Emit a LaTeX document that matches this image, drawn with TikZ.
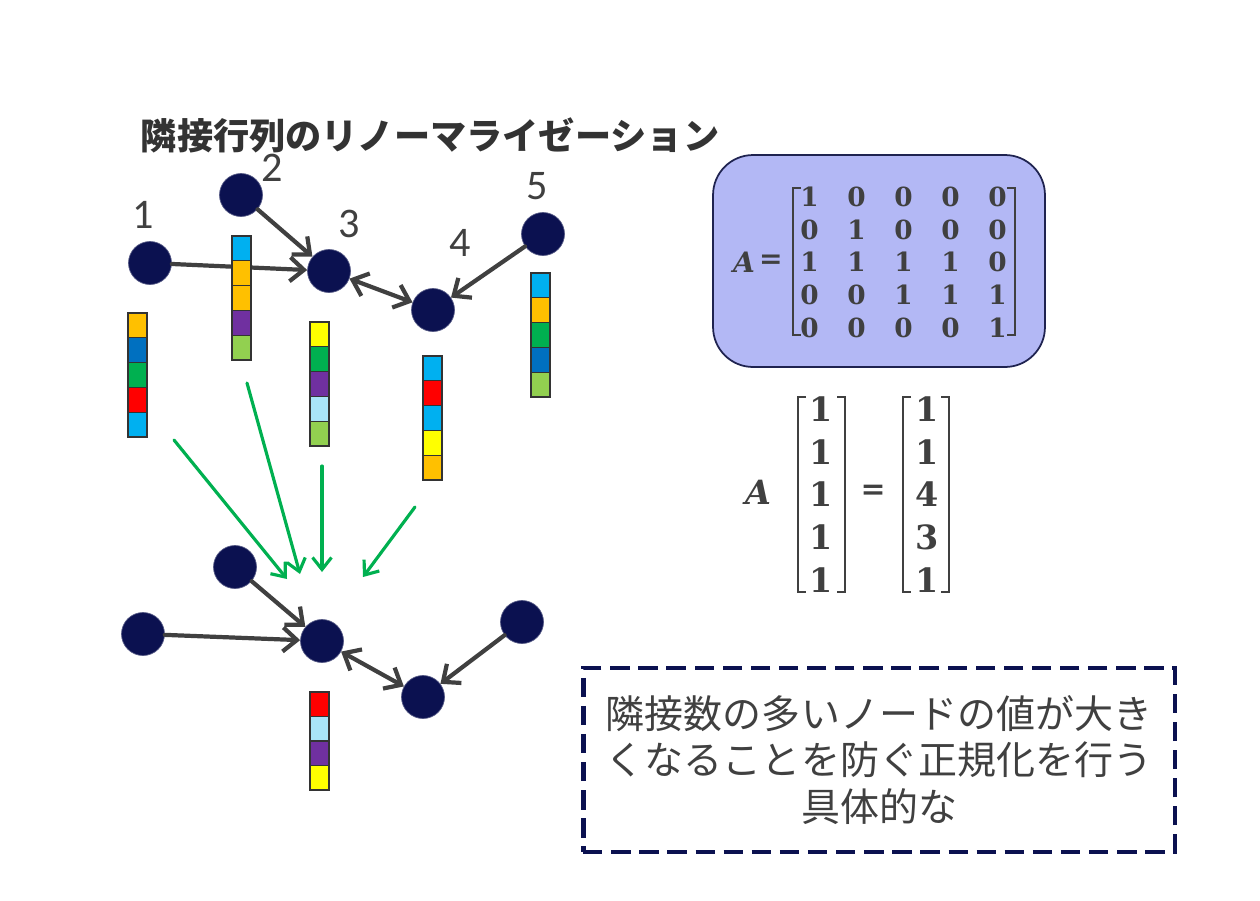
\documentclass[tikz,border=0pt]{standalone}
\usepackage{fontspec}
\usetikzlibrary{matrix,calc,arrows.meta}
\setmainfont{Carlito}
\newfontfamily\jpfont{Noto Sans CJK JP}
\newfontfamily\numfont{DejaVu Serif}
\definecolor{navy}{HTML}{0B1150}
\definecolor{inkgray}{HTML}{404040}
\definecolor{arrowgreen}{HTML}{00B050}
\definecolor{lavender}{HTML}{B3B8F5}
\definecolor{boxline}{HTML}{1F2350}
\definecolor{cOrange}{HTML}{FFC000}
\definecolor{cBlue}{HTML}{0070C0}
\definecolor{cGreen}{HTML}{00B050}
\definecolor{cRed}{HTML}{FF0000}
\definecolor{cSky}{HTML}{00B0F0}
\definecolor{cPurple}{HTML}{7030A0}
\definecolor{cLime}{HTML}{92D050}
\definecolor{cYellow}{HTML}{FFFF00}
\definecolor{cPale}{HTML}{A9E4F8}

\begin{document}
\begin{tikzpicture}[x=0.02cm, y=-0.02cm,
  vertex/.style={circle, fill=navy, draw=navy!70, line width=0.4pt, minimum size=0.86cm, inner sep=0pt},
  numlabel/.style={font=\fontsize{24}{24}\selectfont, text=inkgray, inner sep=0pt},
  link/.style={-{Straight Barb[length=2.8mm, width=4.8mm]}, line width=2.4pt, draw=inkgray, line cap=round},
  bilink/.style={{Straight Barb[length=2.8mm, width=4.8mm]}-{Straight Barb[length=2.8mm, width=4.8mm]}, line width=2.4pt, draw=inkgray, line cap=round},
  flow/.style={-{Straight Barb[length=2.4mm, width=3.8mm]}, line width=1.8pt, draw=arrowgreen, line cap=round},
  cell/.style={draw=black!80, line width=0.6pt},
  brak/.style={draw=inkgray, line width=1.3pt},
  digits/.style={matrix of nodes, inner sep=0pt, text=inkgray}
]
\useasboundingbox (0,0) rectangle (1260,900);

% title
\node[font=\jpfont\bfseries\fontsize{20.6}{20.6}\selectfont, text=black!80, inner sep=0pt] (title) at (430,135) {隣接行列のリノーマライゼーション};

% upper graph
\node[vertex] (n1) at (150,263) {};
\node[vertex] (n2) at (241,195) {};
\node[vertex] (n3) at (329,271) {};
\node[vertex] (n4) at (433,310) {};
\node[vertex] (n5) at (543,234) {};
\node[numlabel] (l1) at (143,215) {1};
\node[numlabel] (l2) at (272,168) {2};
\node[numlabel] (l3) at (349,224) {3};
\node[numlabel] (l4) at (460,243) {4};
\node[numlabel] (l5) at (537,186) {5};
\draw[link] (n1) -- (n3);
\draw[link] (n2) -- (n3);
\draw[bilink] (n3) -- (n4);
\draw[link] (n5) -- (n4);

% feature vectors
\foreach \c [count=\i from 0] in {cOrange,cBlue,cGreen,cRed,cSky}
  \draw[cell, fill=\c] (128,{313+24.8*\i}) rectangle ++(19,24.8);
\foreach \c [count=\i from 0] in {cSky,cOrange,cOrange,cPurple,cLime}
  \draw[cell, fill=\c] (232,{236+24.8*\i}) rectangle ++(19,24.8);
\foreach \c [count=\i from 0] in {cYellow,cGreen,cPurple,cPale,cLime}
  \draw[cell, fill=\c] (310,{322+24.8*\i}) rectangle ++(19,24.8);
\foreach \c [count=\i from 0] in {cSky,cRed,cSky,cYellow,cOrange}
  \draw[cell, fill=\c] (423,{356+24.8*\i}) rectangle ++(19,24.8);
\foreach \c [count=\i from 0] in {cSky,cOrange,cGreen,cBlue,cLime}
  \draw[cell, fill=\c] (531,{273+24.8*\i}) rectangle ++(19,24.8);

% aggregation
\coordinate (g1a) at (174,440);
\coordinate (g1b) at (287,579);
\coordinate (g2a) at (247,383);
\coordinate (g2b) at (300,574);
\coordinate (g3a) at (322,466);
\coordinate (g3b) at (322,572);
\coordinate (g4a) at (415,507);
\coordinate (g4b) at (363,577);
\draw[flow] (g1a) -- (g1b);
\draw[flow] (g2a) -- (g2b);
\draw[flow] (g3a) -- (g3b);
\draw[flow] (g4a) -- (g4b);

% lower graph
\node[vertex] (m1) at (143,634) {};
\node[vertex] (m2) at (235,567) {};
\node[vertex] (m3) at (322,641) {};
\node[vertex] (m4) at (423,697) {};
\node[vertex] (m5) at (522,622) {};
\draw[link] (m1) -- (m3);
\draw[link] (m2) -- (m3);
\draw[bilink] (m3) -- (m4);
\draw[link] (m5) -- (m4);
\foreach \c [count=\i from 0] in {cRed,cPale,cPurple,cYellow}
  \draw[cell, fill=\c] (310,{692+24.5*\i}) rectangle ++(19,24.5);

% adjacency matrix
\node[draw=boxline, line width=1pt, fill=lavender, rounded corners=0.8cm, minimum width=6.64cm, minimum height=4.24cm] (matbox) at (879,261) {};
\node[font=\numfont\bfseries\itshape\fontsize{16}{16}\selectfont, text=inkgray] (aname) at (744,262) {A};
\node[font=\numfont\bfseries\fontsize{16}{16}\selectfont, text=inkgray] (aeq) at (771,262) {=};
\matrix (adj) [digits, font=\numfont\bfseries\fontsize{15}{15}\selectfont,
  nodes={minimum width=0.94cm, minimum height=0.65cm, inner sep=0pt}] at (903.5,262) {
  1 & 0 & 0 & 0 & 0 \\
  0 & 1 & 0 & 0 & 0 \\
  1 & 1 & 1 & 1 & 0 \\
  0 & 0 & 1 & 1 & 1 \\
  0 & 0 & 0 & 0 & 1 \\
};
\draw[brak] (801,188) -- (793,188) -- (793,335) -- (801,335);
\draw[brak] (1007,188) -- (1015,188) -- (1015,335) -- (1007,335);

% degree vector
\node[font=\numfont\bfseries\itshape\fontsize{19}{19}\selectfont, text=inkgray] (bname) at (758,492) {A};
\matrix (vin) [digits, font=\numfont\bfseries\fontsize{19}{19}\selectfont,
  nodes={minimum width=0.8cm, minimum height=0.855cm, inner sep=0pt}] at (821,494.5) {
  1 \\ 1 \\ 1 \\ 1 \\ 1 \\
};
\node[font=\numfont\bfseries\fontsize{17}{17}\selectfont, text=inkgray] (beq) at (873,492) {=};
\matrix (vout) [digits, font=\numfont\bfseries\fontsize{19}{19}\selectfont,
  nodes={minimum width=0.8cm, minimum height=0.855cm, inner sep=0pt}] at (927,494.5) {
  1 \\ 1 \\ 4 \\ 3 \\ 1 \\
};
\draw[brak] (806,397) -- (798,397) -- (798,592) -- (806,592);
\draw[brak] (837,397) -- (845,397) -- (845,592) -- (837,592);
\draw[brak] (911,397) -- (903,397) -- (903,592) -- (911,592);
\draw[brak] (941,397) -- (949,397) -- (949,592) -- (941,592);

% note
\node[draw=navy, line width=2.8pt, dash pattern=on 11pt off 5pt, minimum width=11.84cm, minimum height=3.68cm, align=center,
  font=\jpfont\fontsize{22.2}{26.4}\selectfont, text=inkgray] (note) at (879,760)
  {隣接数の多いノードの値が大き\\くなることを防ぐ正規化を行う\\具体的な};
\end{tikzpicture}
\end{document}
